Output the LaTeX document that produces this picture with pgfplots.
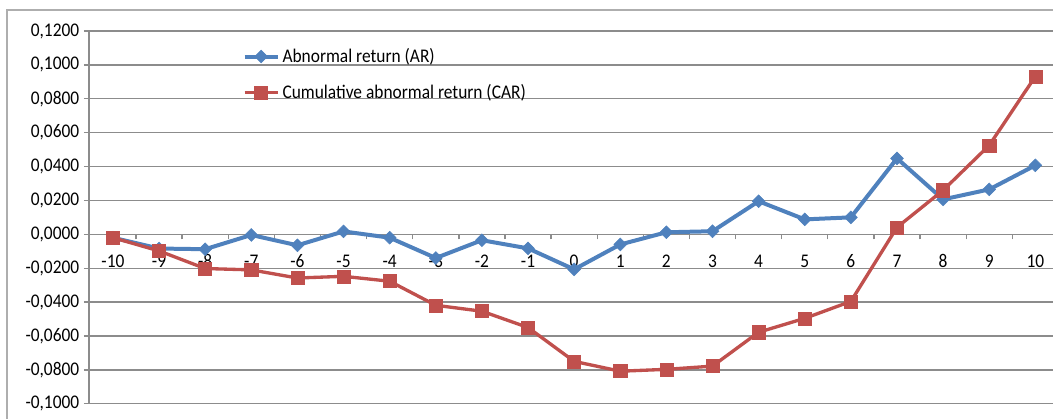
\documentclass[border=0pt]{standalone}
\usepackage{pgfplots}
\pgfplotsset{compat=1.18}
\usepackage{pgfplotstable}
\usepackage{fontspec}
\setmainfont{Carlito}[FakeStretch=0.9]
\definecolor{arblue}{HTML}{4F81BD}
\definecolor{carred}{HTML}{C0504D}
\definecolor{gridgray}{HTML}{8C8C8C}
\pgfplotsset{layers/labelsontop/.define layer set={axis background,axis grid,axis ticks,axis lines,pre main,main,axis tick labels,axis descriptions,axis foreground}{}}

\pgfplotstableread{
day AR CAR
-10 -0.0020 -0.0020
-9 -0.0084 -0.0098
-8 -0.0088 -0.0202
-7 -0.0004 -0.0210
-6 -0.0065 -0.0258
-5 0.0017 -0.0248
-4 -0.0020 -0.0277
-3 -0.0140 -0.0419
-2 -0.0035 -0.0454
-1 -0.0083 -0.0550
0 -0.0207 -0.0750
1 -0.0060 -0.0808
2 0.0012 -0.0797
3 0.0018 -0.0778
4 0.0195 -0.0578
5 0.0088 -0.0496
6 0.0100 -0.0396
7 0.0448 0.0041
8 0.0206 0.0260
9 0.0265 0.0525
10 0.0407 0.0932
}\data

\begin{document}
\begin{tikzpicture}[font=\fontsize{14.5pt}{17pt}\selectfont]
\begin{axis}[
  at={(0,0)}, anchor=south west,
  scale only axis, width=723.75pt, height=279.75pt,
  set layers=labelsontop,
  xmin=-10.52, xmax=10.39, ymin=-0.1, ymax=0.12,
  axis x line=middle, axis y line=left,
  axis line style={-, gridgray, line width=1pt},
  hide obscured x ticks=false, hide obscured y ticks=false,
  xtick={-10,...,10},
  minor xtick={-9.5,-8.5,...,9.5},
  major x tick style={draw=none},
  minor x tick style={gridgray, line width=1pt},
  ytick={-0.1,-0.08,-0.06,-0.04,-0.02,0,0.02,0.04,0.06,0.08,0.1,0.12},
  y tick style={gridgray, line width=1pt},
  tick align=outside,
  major tick length=3.75pt, minor tick length=3.75pt,
  ymajorgrids, grid style={gridgray, line width=1pt},
  scaled y ticks=false,
  /pgf/number format/assume math mode=true,
  yticklabel style={/pgf/number format/.cd, fixed, fixed zerofill, precision=4, use comma},
  xticklabel style={yshift=-8pt},
  legend style={draw=none, fill=none, at={(0.159,0.961)}, anchor=north west,
    row sep=11pt, inner sep=0pt, legend cell align=left,
    /tikz/every even column/.append style={column sep=0pt}},
  legend image code/.code={\draw[mark repeat=2,mark phase=2] plot coordinates {(0pt,0pt)(12.5pt,0pt)(25pt,0pt)};},
]
\addplot[arblue, line width=3pt, mark=square*, mark size=3.4pt, mark options={solid, rotate=45, line width=0.4pt}] table[x=day,y=AR]{\data};
\addlegendentry{Abnormal return (AR)}
\addplot[carred, line width=2.5pt, mark=square*, mark size=4.9pt, mark options={solid, line width=0.4pt}] table[x=day,y=CAR]{\data};
\addlegendentry{Cumulative abnormal return (CAR)}
\end{axis}
\draw[gridgray!70, line width=1pt] (-61.5pt,-11.25pt) -- (-61.5pt,295.5pt) -- (723.75pt,295.5pt);
\path (-66.75pt,-11.25pt) rectangle (723.75pt,303pt);
\end{tikzpicture}
\end{document}
